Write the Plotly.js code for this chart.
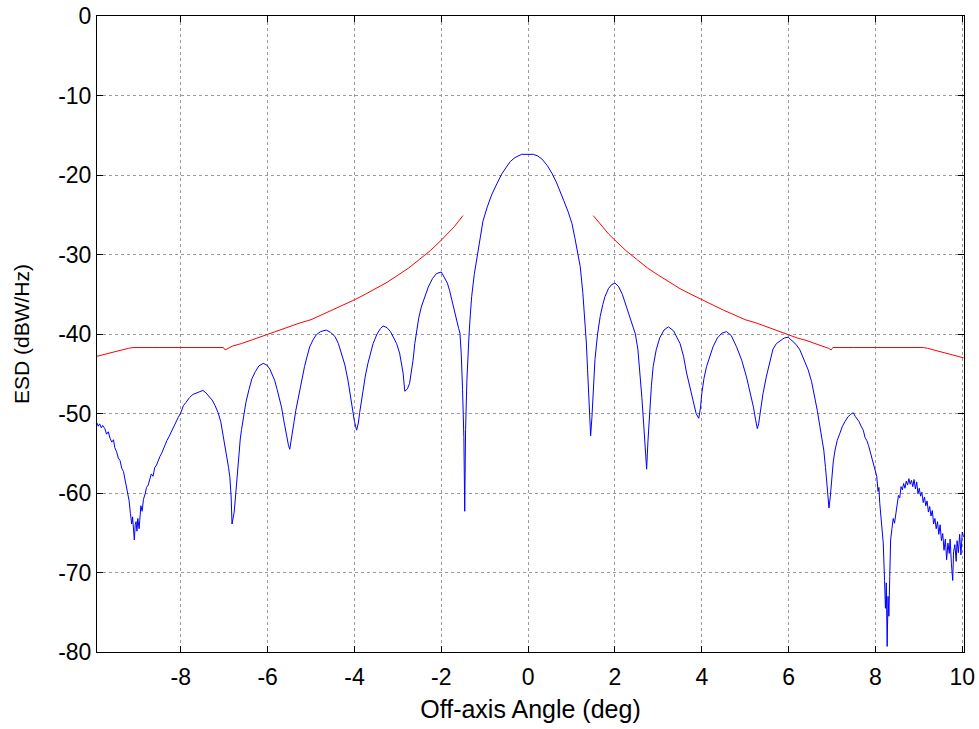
<!DOCTYPE html>
<html>
<head>
<meta charset="utf-8">
<script src="https://cdn.plot.ly/plotly-3.0.1.min.js"></script>
<style>html,body{margin:0;padding:0;background:#fff}#chart{width:979px;height:729px}</style>
</head>
<body>
<div id="chart"></div>
<script>
// Measured ESD pattern (blue)
const angleDeg = [
-9.93,-9.90,-9.87,-9.83,-9.80,-9.75,-9.71,-9.67,-9.63,-9.59,-9.55,-9.52,-9.48,-9.44,-9.40,-9.36,-9.32,-9.29,-9.25,-9.22,
-9.19,-9.16,-9.13,-9.11,-9.09,-9.07,-9.05,-9.03,-9.01,-8.99,-8.96,-8.94,-8.92,-8.89,-8.86,-8.82,-8.79,-8.75,-8.71,-8.68,
-8.64,-8.60,-8.56,-8.52,-8.48,-8.44,-8.40,-8.36,-8.32,-8.27,-8.22,-8.17,-8.12,-8.06,-8.00,-7.94,-7.88,-7.80,-7.72,-7.64,
-7.56,-7.49,-7.42,-7.35,-7.28,-7.21,-7.14,-7.08,-7.03,-6.98,-6.94,-6.90,-6.87,-6.84,-6.82,-6.79,-6.77,-6.74,-6.72,-6.69,
-6.67,-6.63,-6.60,-6.55,-6.50,-6.43,-6.36,-6.28,-6.20,-6.10,-6.02,-5.95,-5.89,-5.84,-5.78,-5.73,-5.68,-5.63,-5.59,-5.55,
-5.52,-5.49,-5.46,-5.43,-5.39,-5.35,-5.30,-5.26,-5.20,-5.15,-5.09,-5.03,-4.95,-4.88,-4.78,-4.65,-4.55,-4.45,-4.37,-4.30,
-4.22,-4.15,-4.10,-4.05,-4.00,-3.95,-3.91,-3.88,-3.84,-3.80,-3.75,-3.69,-3.63,-3.57,-3.48,-3.40,-3.34,-3.25,-3.17,-3.11,
-3.03,-2.96,-2.92,-2.88,-2.84,-2.78,-2.73,-2.69,-2.65,-2.61,-2.57,-2.52,-2.46,-2.38,-2.30,-2.20,-2.11,-2.00,-1.92,-1.86,
-1.81,-1.75,-1.70,-1.65,-1.60,-1.57,-1.54,-1.51,-1.48,-1.46,-1.44,-1.41,-1.39,-1.36,-1.33,-1.30,-1.24,-1.17,-1.11,-1.04,
-0.94,-0.84,-0.72,-0.61,-0.50,-0.41,-0.30,-0.15,0.00,0.12,0.22,0.32,0.44,0.55,0.65,0.74,0.82,0.92,1.01,1.08,
1.14,1.20,1.26,1.31,1.34,1.37,1.41,1.44,1.47,1.51,1.54,1.60,1.66,1.72,1.77,1.85,1.92,2.00,2.08,2.17,
2.27,2.37,2.47,2.53,2.58,2.62,2.66,2.70,2.73,2.76,2.80,2.84,2.88,2.95,3.03,3.13,3.23,3.35,3.50,3.58,
3.65,3.73,3.80,3.87,3.93,3.97,4.00,4.05,4.11,4.18,4.26,4.36,4.46,4.57,4.68,4.80,4.92,5.03,5.11,5.19,
5.24,5.28,5.31,5.36,5.41,5.49,5.57,5.64,5.72,5.80,5.90,5.99,6.08,6.17,6.26,6.36,6.45,6.53,6.60,6.66,
6.72,6.77,6.81,6.85,6.88,6.93,6.96,6.99,7.03,7.07,7.12,7.18,7.24,7.30,7.37,7.43,7.49,7.54,7.58,7.62,
7.67,7.72,7.76,7.80,7.84,7.87,7.91,7.95,7.99,8.03,8.06,8.08,8.10,8.13,8.16,8.18,8.21,8.23,8.25,8.27,
8.29,8.31,8.33,8.35,8.38,8.41,8.44,8.47,8.50,8.53,8.56,8.59,8.62,8.65,8.68,8.71,8.74,8.77,8.80,8.83,
8.86,8.89,8.92,8.95,8.98,9.01,9.04,9.07,9.10,9.13,9.16,9.19,9.22,9.25,9.28,9.31,9.34,9.37,9.40,9.43,
9.46,9.49,9.52,9.55,9.58,9.61,9.64,9.67,9.70,9.72,9.75,9.78,9.80,9.83,9.86,9.88,9.91,9.94,9.97,10.00,
10.03
];
const esdMeasured = [
-51.2,-51.6,-51.3,-51.8,-51.5,-51.9,-52.6,-52.3,-53.1,-53.6,-53.3,-54.3,-54.8,-55.6,-55.9,-56.9,-57.3,-58.2,-59.3,-60.4,
-61.0,-62.6,-63.9,-63.0,-64.6,-65.9,-64.0,-63.6,-64.8,-63.2,-64.5,-62.8,-61.6,-62.3,-60.8,-60.1,-59.3,-59.0,-58.2,-57.6,
-57.9,-56.8,-56.5,-55.8,-55.4,-55.0,-54.4,-53.8,-53.4,-52.9,-52.3,-51.9,-51.1,-50.5,-49.9,-49.0,-48.6,-48.0,-47.6,-47.4,
-47.2,-47.1,-47.4,-47.9,-48.3,-49.0,-49.9,-51.0,-52.5,-54.0,-55.5,-56.8,-58.0,-60.5,-63.9,-62.8,-62.4,-60.5,-59.2,-57.0,
-55.0,-53.2,-52.0,-50.0,-48.6,-47.0,-45.6,-44.7,-44.0,-43.7,-43.9,-44.4,-45.2,-45.8,-47.0,-48.0,-49.2,-50.8,-52.0,-53.3,
-54.0,-54.5,-53.6,-52.5,-51.0,-49.6,-48.2,-47.0,-45.5,-44.1,-42.8,-41.6,-40.7,-40.1,-39.7,-39.5,-39.8,-40.3,-41.2,-42.4,
-43.9,-45.8,-47.6,-49.6,-51.0,-52.1,-51.2,-49.9,-48.4,-47.0,-45.3,-43.7,-42.3,-41.2,-40.0,-39.3,-39.0,-39.2,-39.7,-40.3,
-41.2,-42.4,-43.5,-44.9,-47.2,-46.9,-46.2,-44.9,-43.3,-41.2,-39.5,-38.0,-36.6,-35.2,-34.1,-33.0,-32.4,-32.2,-32.9,-33.6,
-34.5,-36.0,-37.2,-38.3,-39.3,-39.9,-42.5,-47.0,-53.0,-62.3,-52.0,-45.8,-42.5,-40.0,-37.5,-35.3,-32.5,-30.0,-27.8,-25.8,
-24.0,-22.5,-21.1,-19.9,-19.0,-18.3,-17.8,-17.4,-17.4,-17.4,-17.6,-18.0,-18.8,-19.8,-20.9,-22.0,-23.2,-24.6,-26.1,-28.0,
-30.0,-31.5,-34.8,-38.2,-41.0,-44.5,-50.0,-52.8,-50.5,-47.0,-43.2,-40.0,-37.8,-36.3,-35.3,-34.3,-33.8,-33.6,-34.0,-35.0,
-36.6,-38.2,-40.0,-42.0,-44.9,-48.0,-51.2,-55.0,-57.0,-53.5,-49.5,-46.5,-44.1,-42.0,-40.5,-39.5,-39.1,-39.6,-41.2,-42.8,
-44.9,-46.8,-48.7,-50.0,-50.6,-49.3,-47.5,-45.6,-44.1,-42.8,-41.6,-40.5,-39.9,-39.7,-40.2,-41.6,-43.3,-45.4,-47.2,-49.2,
-50.8,-51.9,-51.3,-49.5,-47.5,-45.3,-43.6,-41.9,-41.2,-40.9,-40.5,-40.4,-40.8,-41.3,-42.0,-43.2,-44.5,-46.0,-47.8,-49.6,
-51.6,-53.2,-54.6,-56.8,-58.8,-61.9,-60.5,-58.3,-56.0,-54.6,-53.4,-52.5,-51.6,-51.0,-50.4,-50.1,-49.9,-50.4,-50.7,-51.0,
-51.6,-52.1,-53.0,-53.4,-54.0,-54.6,-55.5,-56.1,-57.2,-57.9,-59.8,-59.3,-61.3,-63.0,-65.0,-66.3,-71.0,-74.5,-71.3,-79.3,
-73.0,-75.5,-70.5,-65.9,-64.5,-63.2,-63.8,-62.4,-61.8,-60.3,-60.6,-59.2,-59.6,-58.8,-59.4,-58.5,-59.0,-58.2,-58.9,-58.4,
-59.2,-58.3,-59.5,-58.6,-60.1,-59.4,-60.4,-59.9,-61.2,-60.5,-61.6,-61.0,-62.4,-61.7,-62.9,-62.2,-63.9,-63.2,-64.5,-63.6,
-65.2,-64.0,-66.0,-65.1,-67.2,-65.8,-68.4,-66.3,-67.6,-65.8,-68.9,-71.0,-67.4,-66.5,-68.6,-66.0,-67.5,-65.2,-67.8,-64.9,
-65.5
];
// Mask (red), two branches separated by a gap
const maskAngle = [
-9.93,-9.80,-9.65,-9.50,-9.35,-9.20,-9.10,-8.50,-8.00,-7.50,-7.02,-6.98,-6.92,-6.80,-6.60,-6.40,-6.20,-6.00,-5.75,-5.50,
-5.25,-5.00,-4.75,-4.50,-4.25,-4.00,-3.75,-3.50,-3.25,-3.00,-2.75,-2.50,-2.25,-2.00,-1.85,-1.70,-1.60,-1.50,
null,
1.50,1.60,1.70,1.85,2.00,2.25,2.50,2.75,3.00,3.25,3.50,3.75,4.00,4.25,4.50,4.75,5.00,5.25,5.50,5.75,
6.00,6.20,6.40,6.60,6.80,6.92,6.98,7.02,7.50,8.00,8.50,9.10,9.20,9.35,9.50,9.65,9.80,9.93,10.03
];
const maskEsd = [
-42.8,-42.6,-42.4,-42.2,-42.0,-41.8,-41.7,-41.7,-41.7,-41.7,-41.7,-42.0,-41.8,-41.5,-41.2,-40.8,-40.5,-40.1,-39.6,-39.1,
-38.6,-38.2,-37.6,-37.0,-36.4,-35.7,-35.0,-34.3,-33.5,-32.6,-31.7,-30.6,-29.5,-28.2,-27.4,-26.5,-25.8,-25.1,
null,
-25.1,-25.8,-26.5,-27.4,-28.2,-29.5,-30.6,-31.7,-32.6,-33.5,-34.3,-35.0,-35.7,-36.4,-37.0,-37.6,-38.2,-38.6,-39.1,-39.6,
-40.1,-40.5,-40.8,-41.2,-41.5,-41.8,-42.0,-41.7,-41.7,-41.7,-41.7,-41.7,-41.8,-42.0,-42.2,-42.4,-42.6,-42.8,-43.0
];
const xTicks = [-8,-6,-4,-2,0,2,4,6,8,10];
const yTicks = [0,-10,-20,-30,-40,-50,-60,-70,-80];

const traces = [
  {x: maskAngle, y: maskEsd, type: 'scatter', mode: 'lines', line: {color: '#ff0000', width: 1}, connectgaps: false, hoverinfo: 'skip'},
  {x: angleDeg, y: esdMeasured, type: 'scatter', mode: 'lines', line: {color: '#0000ff', width: 1}}
];
const axisCommon = {
  showline: true, mirror: 'ticks', linecolor: '#000', linewidth: 1,
  ticks: 'inside', ticklen: 6, tickcolor: '#000', tickwidth: 1,
  showgrid: true, gridcolor: '#9a9a9a', griddash: 'dot', gridwidth: 1,
  zeroline: false, tickfont: {family: 'Liberation Sans, Arial, sans-serif', size: 23, color: '#000'}
};
const layout = {
  width: 979, height: 729,
  margin: {l: 97, r: 15, t: 16, b: 77},
  paper_bgcolor: '#fff', plot_bgcolor: '#fff',
  showlegend: false,
  font: {family: 'Liberation Sans, Arial, sans-serif', size: 22, color: '#000'},
  xaxis: Object.assign({}, axisCommon, {
    range: [-9.93, 10.04], tickmode: 'array', tickvals: xTicks, ticktext: xTicks.map(String),
    ticklabelstandoff: 4,
    title: {text: 'Off-axis Angle (deg)', font: {size: 25}, standoff: 11}
  }),
  yaxis: Object.assign({}, axisCommon, {
    range: [-80, 0], tickmode: 'array', tickvals: yTicks, ticktext: yTicks.map(String),
    title: {text: 'ESD (dBW/Hz)', font: {size: 21}, standoff: 22}
  })
};
Plotly.newPlot('chart', traces, layout, {displayModeBar: false, staticPlot: true});
</script>
</body>
</html>
